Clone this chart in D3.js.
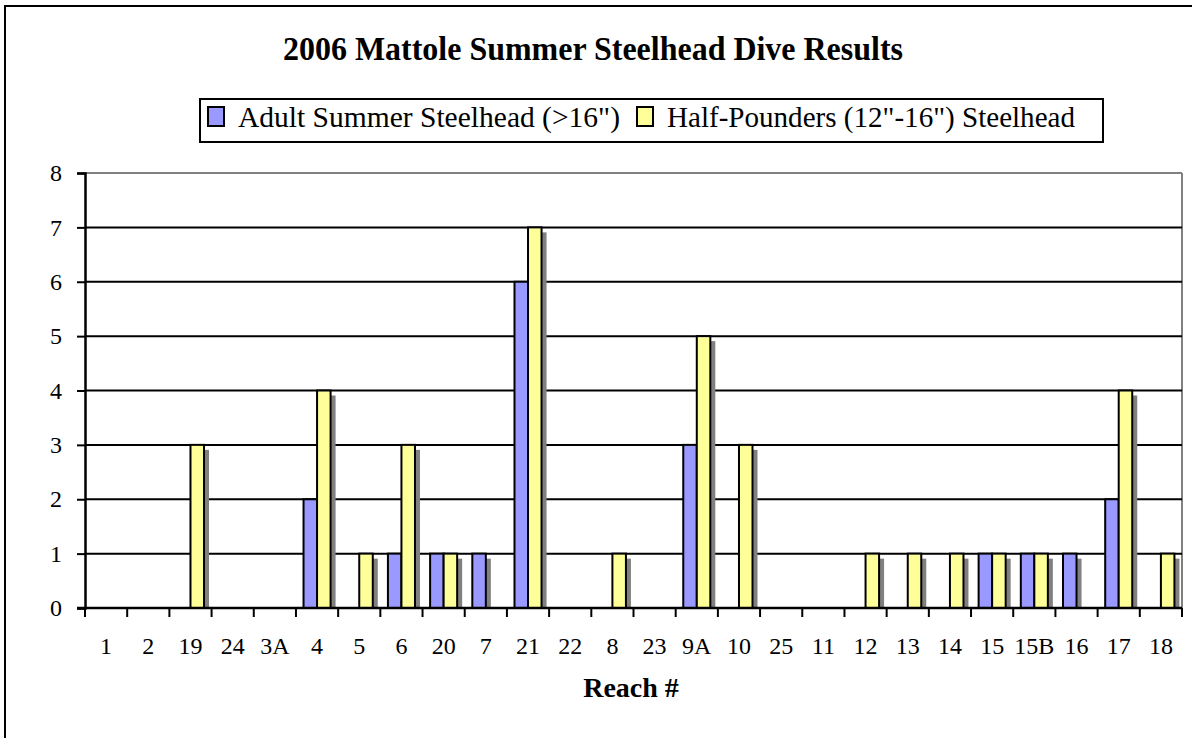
<!DOCTYPE html>
<html>
<head>
<meta charset="utf-8">
<script src="https://cdn.jsdelivr.net/npm/d3@7"></script>
<style>
body { margin: 0; background: #fff; }
svg text { font-family: "Liberation Serif", "Times New Roman", serif; }
</style>
</head>
<body>
<div id="chart"></div>
<script>
var reaches = ["1", "2", "19", "24", "3A", "4", "5", "6", "20", "7", "21", "22", "8", "23", "9A", "10", "25", "11", "12", "13", "14", "15", "15B", "16", "17", "18"];
var adult = [0, 0, 0, 0, 0, 2, 0, 1, 1, 1, 6, 0, 0, 0, 3, 0, 0, 0, 0, 0, 0, 1, 1, 1, 2, 0];
var halfPounders = [0, 0, 3, 0, 0, 4, 1, 3, 1, 0, 7, 0, 1, 0, 5, 3, 0, 0, 1, 1, 1, 1, 1, 0, 4, 1];
var seriesNames = ["Adult Summer Steelhead (>16\")", "Half-Pounders (12\"-16\") Steelhead"];
var seriesColors = ["#9999ff", "#ffff99"];
var yTicks = [0, 1, 2, 3, 4, 5, 6, 7, 8];

var w = 1192, h = 738;
var plotLeft = 85, plotRight = 1182, plotTop = 173, plotBottom = 608;

var svg = d3.select("#chart").append("svg").attr("width", w).attr("height", h);

// outer chart border
svg.append("rect").attr("x", 5).attr("y", 6).attr("width", w).attr("height", h)
    .attr("fill", "none").attr("stroke", "#000").attr("stroke-width", 2);

svg.append("text").attr("x", 283).attr("y", 60)
    .attr("font-size", "33px").attr("font-weight", "bold")
    .attr("textLength", 620).attr("lengthAdjust", "spacingAndGlyphs")
    .text("2006 Mattole Summer Steelhead Dive Results");

var xScale = d3.scaleBand().domain(reaches).range([plotLeft, plotRight]).padding(0);
var xInner = d3.scaleBand().domain([0, 1]).range([0, xScale.bandwidth()]).paddingInner(0).paddingOuter(0.56);
var yScale = d3.scaleLinear().domain([0, 8]).range([plotBottom, plotTop]);

// plot area border (gray)
svg.append("line").attr("x1", plotLeft).attr("x2", plotRight).attr("y1", yScale(8)).attr("y2", yScale(8))
    .attr("stroke", "#808080").attr("stroke-width", 2);
svg.append("line").attr("x1", plotRight).attr("x2", plotRight).attr("y1", plotTop).attr("y2", plotBottom)
    .attr("stroke", "#808080").attr("stroke-width", 2);

// gridlines
svg.selectAll(".grid").data(yTicks.slice(1, 8)).enter().append("line")
    .attr("x1", plotLeft).attr("x2", plotRight)
    .attr("y1", function (d) { return yScale(d); })
    .attr("y2", function (d) { return yScale(d); })
    .attr("stroke", "#000").attr("stroke-width", 2);

var data = [adult, halfPounders];
var barData = [];
for (var s = 0; s < 2; s++) {
    for (var i = 0; i < reaches.length; i++) {
        if (data[s][i] > 0) barData.push({ s: s, cat: reaches[i], v: data[s][i] });
    }
}

// shadows first
svg.selectAll(".shadow").data(barData).enter().append("rect")
    .attr("x", function (d) { return xScale(d.cat) + xInner(d.s) + 5; })
    .attr("y", function (d) { return yScale(d.v) + 5; })
    .attr("width", xInner.bandwidth())
    .attr("height", function (d) { return Math.max(0, plotBottom - yScale(d.v) - 5); })
    .attr("fill", "#808080");

svg.selectAll(".bar").data(barData).enter().append("rect")
    .attr("x", function (d) { return xScale(d.cat) + xInner(d.s); })
    .attr("y", function (d) { return yScale(d.v); })
    .attr("width", xInner.bandwidth())
    .attr("height", function (d) { return plotBottom - yScale(d.v); })
    .attr("fill", function (d) { return seriesColors[d.s]; })
    .attr("stroke", "#000").attr("stroke-width", 2);

// y axis
var yAxis = d3.axisLeft(yScale).tickValues(yTicks).tickSize(8).tickPadding(15).tickFormat(d3.format("d"));
var yg = svg.append("g").attr("transform", "translate(" + plotLeft + ",0)").call(yAxis);
yg.select(".domain").attr("stroke", "#000").attr("stroke-width", 2.5);
yg.selectAll(".tick line").attr("stroke", "#000").attr("stroke-width", 2);
yg.selectAll("text").attr("font-size", "24px").attr("fill", "#000")
    .style("font-family", "'Liberation Serif', 'Times New Roman', serif");

// x axis: ticks at category boundaries
var xg = svg.append("g").attr("transform", "translate(0," + plotBottom + ")");
xg.append("line").attr("x1", plotLeft - 8).attr("x2", plotRight).attr("y1", 0).attr("y2", 0)
    .attr("stroke", "#000").attr("stroke-width", 2.5);
var bounds = reaches.map(function (r) { return xScale(r); }).concat([plotRight]);
xg.selectAll(".xt").data(bounds).enter().append("line")
    .attr("x1", function (d) { return d; }).attr("x2", function (d) { return d; })
    .attr("y1", 0).attr("y2", 9).attr("stroke", "#000").attr("stroke-width", 2);
xg.selectAll(".xl").data(reaches).enter().append("text")
    .attr("x", function (d) { return xScale(d) + xScale.bandwidth() / 2; })
    .attr("y", 46).attr("text-anchor", "middle").attr("font-size", "24px")
    .text(function (d) { return d; });

svg.append("text").attr("x", 631).attr("y", 697).attr("text-anchor", "middle")
    .attr("font-size", "28px").attr("font-weight", "bold").text("Reach #");

// legend
var lg = svg.append("g");
lg.append("rect").attr("x", 200).attr("y", 99).attr("width", 903).attr("height", 43)
    .attr("fill", "#fff").attr("stroke", "#000").attr("stroke-width", 2);
var legX = [208, 637];
var legW = [382, 408];
seriesNames.forEach(function (name, i) {
    lg.append("rect").attr("x", legX[i]).attr("y", 107).attr("width", 16).attr("height", 19)
        .attr("fill", seriesColors[i]).attr("stroke", "#000").attr("stroke-width", 2);
    lg.append("text").attr("x", legX[i] + 30).attr("y", 127).attr("font-size", "29px")
        .attr("textLength", legW[i]).attr("lengthAdjust", "spacingAndGlyphs").text(name);
});
</script>
</body>
</html>
